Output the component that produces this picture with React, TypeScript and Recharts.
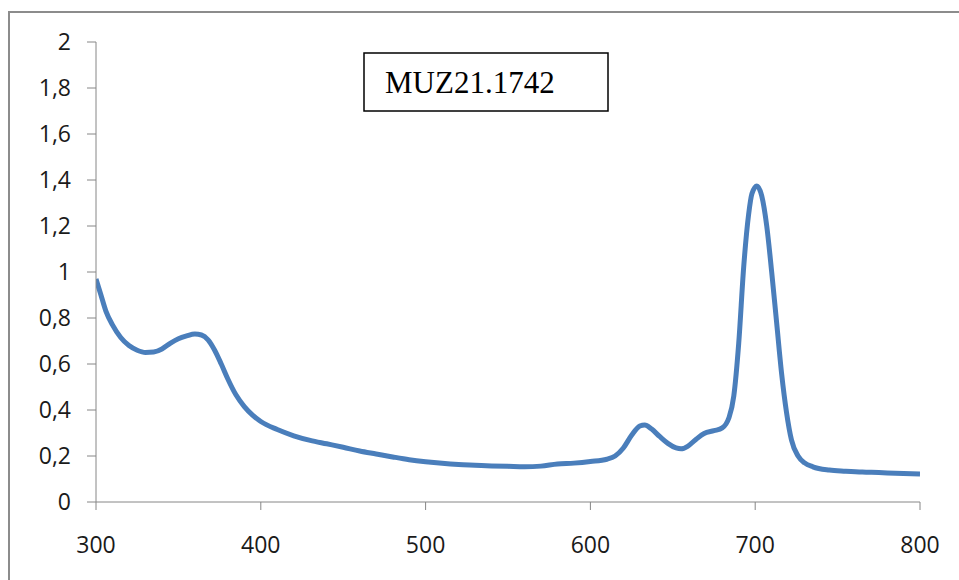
import React from 'react';
import { LineChart, Line, XAxis, YAxis } from 'recharts';

const wavelengths = [
  300, 303, 306, 310, 315, 320, 325, 330, 335, 340, 345, 350, 355, 360, 364, 368, 372, 376, 380, 385,
  390, 395, 400, 410, 420, 430, 440, 450, 460, 470, 480, 490, 500, 510, 520, 530, 540, 550, 560, 570,
  580, 590, 600, 610, 615, 620, 625, 630, 633, 637, 642, 647, 652, 655, 659, 664, 669, 675, 680, 684,
  687, 690, 693, 696, 698, 701, 704, 707, 710, 713, 716, 719, 722, 726, 730, 735, 745, 755, 765, 775,
  785, 800,
];

const absorbance = [
  0.97, 0.9, 0.83, 0.77, 0.715, 0.68, 0.66, 0.65, 0.652, 0.665, 0.69, 0.71, 0.722, 0.73, 0.726, 0.705, 0.66, 0.6, 0.535, 0.465,
  0.415, 0.378, 0.35, 0.315, 0.288, 0.268, 0.253, 0.238, 0.222, 0.209, 0.196, 0.184, 0.175, 0.168, 0.163, 0.16, 0.157, 0.155, 0.153, 0.156,
  0.165, 0.169, 0.176, 0.186, 0.2, 0.235, 0.29, 0.33, 0.335, 0.318, 0.285, 0.255, 0.235, 0.231, 0.242, 0.272, 0.298, 0.31, 0.322, 0.365,
  0.46, 0.69, 1.02, 1.25, 1.34, 1.374, 1.33, 1.2, 1.0, 0.78, 0.56, 0.39, 0.27, 0.2, 0.17, 0.153, 0.139, 0.134, 0.13, 0.128,
  0.125, 0.122,
];

const xTicks = [300, 400, 500, 600, 700, 800];
const yTicks = [0, 0.2, 0.4, 0.6, 0.8, 1, 1.2, 1.4, 1.6, 1.8, 2];
const title = 'MUZ21.1742';

const data = wavelengths.map((w, i) => ({ w, a: absorbance[i] }));

const axisColor = '#868686';
const tickFont = { fontFamily: '"Open Sans", sans-serif', fontSize: 23, fill: '#1a1a1a' };

export default function App() {
  return (
    <div style={{ position: 'absolute', left: 0, top: 0, width: 959, height: 580, background: '#fff', overflow: 'hidden' }}>
      <LineChart
        width={959}
        height={580}
        data={data}
        margin={{ top: 42, right: 39, bottom: 0, left: 0 }}
      >
        <XAxis
          dataKey="w"
          type="number"
          domain={[300, 800]}
          ticks={xTicks}
          height={78}
          stroke={axisColor}
          tickLine={{ stroke: axisColor }}
          tickSize={8}
          tickMargin={27}
          tick={tickFont}
          allowDataOverflow
        />
        <YAxis
          type="number"
          domain={[0, 2]}
          ticks={yTicks}
          width={96}
          stroke={axisColor}
          tickLine={{ stroke: axisColor }}
          tickSize={9}
          tickMargin={16}
          tick={tickFont}
          tickFormatter={(v: number) => String(v).replace('.', ',')}
          interval={0}
        />
        <Line
          type="monotone"
          dataKey="a"
          stroke="#4a7ebb"
          strokeWidth={5}
          dot={false}
          isAnimationActive={false}
        />
      </LineChart>
      <svg
        width={959}
        height={580}
        style={{ position: 'absolute', left: 0, top: 0, pointerEvents: 'none' }}
      >
        <line x1={9} y1={11} x2={9} y2={580} stroke="#8c8c8c" strokeWidth={2} />
        <line x1={8} y1={12} x2={959} y2={12} stroke="#8c8c8c" strokeWidth={2} />
        <rect x={364} y={53} width={244} height={58} fill="#fff" stroke="#000" strokeWidth={1.5} />
        <text x={385} y={93} fontFamily='"Liberation Serif", "Times New Roman", serif' fontSize={31} fill="#000">
          {title}
        </text>
      </svg>
    </div>
  );
}
